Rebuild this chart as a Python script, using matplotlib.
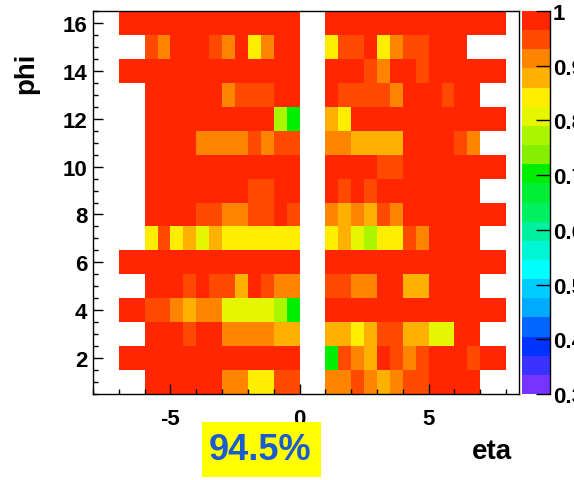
import numpy as np
import matplotlib
matplotlib.use("Agg")
import matplotlib.pyplot as plt
from matplotlib.colors import ListedColormap, BoundaryNorm
from matplotlib.patches import Rectangle
from matplotlib.ticker import MultipleLocator, FixedLocator

plt.rcParams["font.family"] = ["Liberation Sans", "DejaVu Sans"]
plt.rcParams["font.weight"] = "bold"
plt.rcParams["axes.unicode_minus"] = False

nan = np.nan

# lower edges of the 0.5-wide eta bins; towers live in -7..0 and 1..8
eta_neg = [-7.0, -6.5, -6.0, -5.5, -5.0, -4.5, -4.0, -3.5, -3.0, -2.5, -2.0, -1.5, -1.0, -0.5]
eta_pos = [1.0, 1.5, 2.0, 2.5, 3.0, 3.5, 4.0, 4.5, 5.0, 5.5, 6.0, 6.5, 7.0, 7.5]
phi_bins = list(range(1, 17))

# efficiency per phi row (phi = 1 .. 16), negative eta side
eff_neg = [
    [nan, nan, .99, .99, .99, .99, .99, .99, .925, .925, .855, .855, .96, .96],
    [.99, .99, .99, .99, .99, .99, .99, .99, .99, .99, .99, .99, .99, .99],
    [nan, nan, .99, .99, .99, .96, .99, .99, .925, .925, .925, .925, .89, .89],
    [.99, .99, .96, .96, .925, .89, .925, .925, .82, .82, .82, .82, .785, .71],
    [nan, nan, .99, .99, .99, .96, .99, .96, .96, .89, .99, .96, .925, .925],
    [.99, .99, .99, .99, .99, .99, .99, .99, .99, .99, .99, .99, .99, .99],
    [nan, nan, .855, .96, .855, .89, .82, .89, .855, .855, .855, .855, .855, .855],
    [nan, nan, .99, .99, .99, .99, .96, .96, .925, .925, .96, .96, .99, .96],
    [nan, nan, .99, .99, .99, .99, .99, .99, .99, .99, .96, .96, .99, .99],
    [nan, nan, .99, .99, .99, .99, .99, .99, .99, .99, .99, .99, .99, .99],
    [nan, nan, .99, .99, .99, .99, .925, .925, .925, .925, .96, .925, .96, .96],
    [nan, nan, .99, .99, .99, .99, .99, .99, .99, .99, .99, .99, .785, .71],
    [nan, nan, .99, .99, .99, .99, .99, .99, .925, .96, .96, .96, .99, .99],
    [.99, .99, .99, .99, .99, .99, .99, .99, .99, .99, .99, .99, .99, .99],
    [nan, nan, .96, .925, .99, .99, .99, .96, .925, .99, .855, .925, .99, .99],
    [.99, .99, .99, .99, .99, .99, .99, .99, .99, .99, .99, .99, .99, .99],
]

# positive eta side
eff_pos = [
    [.925, .925, .96, .925, .89, .925, .96, .96, .99, .99, .99, .99, nan, nan],
    [.71, .96, .925, .89, .99, .96, .925, .96, .99, .99, .99, .96, .99, .99],
    [.89, .89, .855, .89, .96, .96, .89, .89, .82, .82, .99, .99, nan, nan],
    [.99, .99, .99, .99, .99, .99, .99, .99, .99, .99, .99, .99, .99, .99],
    [.96, .96, .925, .925, .99, .99, .89, .89, .99, .99, .99, .99, nan, nan],
    [.99, .99, .99, .99, .99, .99, .99, .99, .99, .99, .99, .99, .99, .99],
    [.855, .89, .82, .785, .855, .855, .96, .925, .99, .99, .99, .99, nan, nan],
    [.925, .89, .925, .89, .96, .925, .99, .99, .99, .99, .99, .99, .99, .99],
    [.99, .96, .99, .96, .99, .99, .99, .99, .99, .99, .99, .99, nan, nan],
    [.99, .99, .99, .99, .96, .96, .99, .99, .99, .99, .99, .99, .99, .99],
    [.925, .925, .89, .89, .89, .89, .99, .99, .99, .99, .96, .925, nan, nan],
    [.89, .855, .99, .99, .99, .99, .99, .99, .99, .99, .99, .99, .99, .99],
    [.99, .96, .96, .96, .96, .925, .99, .99, .99, .96, .99, .99, nan, nan],
    [.99, .99, .99, .96, .925, .99, .99, .96, .99, .99, .99, .99, .99, .99],
    [.855, .96, .96, .99, .855, .925, .96, .96, .99, .99, .99, nan, nan, nan],
    [.99, .99, .99, .99, .99, .99, .99, .99, .99, .99, .99, .99, .99, .99],
]

total_eff = "94.5%"

# 20-level palette, low to high
palette = ["#7733ff", "#3a33ff", "#0033ff", "#0066ff", "#00aaff",
           "#00ccff", "#00ffff", "#00f5d5", "#00f0a0", "#00f060",
           "#00ee33", "#00ee00", "#84f000", "#aaf500", "#e6f500",
           "#ffee00", "#ffb000", "#ff8400", "#ff4a00", "#ff2600"]
levels = np.linspace(0.3, 1.0, 21)
cmap = ListedColormap(palette)
norm = BoundaryNorm(levels, cmap.N)

# full grid, with the empty 0 < eta < 1 strip in between
eta_low = eta_neg + [0.0, 0.5] + eta_pos
eta_edges = np.append(eta_low, eta_low[-1] + 0.5)
phi_edges = np.append(np.array(phi_bins) - 0.5, phi_bins[-1] + 0.5)
z = np.hstack([np.array(eff_neg), np.full((16, 2), nan), np.array(eff_pos)])
z = np.ma.masked_invalid(z)

W, H = 574, 481
fig = plt.figure(figsize=(W / 100, H / 100), dpi=100)
ax = fig.add_axes([93 / W, 1 - 395 / H, 426 / W, 383 / H])
mesh = ax.pcolormesh(eta_edges, phi_edges, z, cmap=cmap, norm=norm)

ax.set_xlim(-8, 8.5)
ax.set_ylim(0.5, 16.5)
ax.xaxis.set_major_locator(FixedLocator([-5, 0, 5]))
ax.xaxis.set_minor_locator(MultipleLocator(1))
ax.yaxis.set_major_locator(MultipleLocator(2))
ax.yaxis.set_minor_locator(MultipleLocator(0.5))
ax.tick_params(which="both", direction="in", top=False, right=False,
               labelsize=16, width=1)
ax.tick_params(which="major", length=7)
ax.tick_params(which="minor", length=3.5)
ax.tick_params(axis="x", pad=10)
ax.tick_params(axis="y", pad=4)
for s in ax.spines.values():
    s.set_linewidth(1)

fig.text(492 / W, 1 - 452 / H, "eta", fontsize=20, fontweight="bold",
         ha="center", va="center")
fig.text(26 / W, 1 - 73 / H, "phi", fontsize=20, fontweight="bold",
         rotation=90, ha="center", va="center")

# colour scale
cax = fig.add_axes([522 / W, 1 - 395 / H, 28 / W, 383 / H])
cb = fig.colorbar(mesh, cax=cax, boundaries=levels)
cb.outline.set_visible(False)
cb.set_ticks([0.3, 0.4, 0.5, 0.6, 0.7, 0.8, 0.9, 1.0])
cb.set_ticklabels(["0.3", "0.4", "0.5", "0.6", "0.7", "0.8", "0.9", "1"])
cax.yaxis.set_ticks_position("right")
cax.tick_params(direction="in", length=10, width=1, labelsize=16, pad=2)
cax.minorticks_off()
cax.plot([1, 1], [0, 1], color="black", lw=1, transform=cax.transAxes,
         clip_on=False)

# overall efficiency tag
fig.patches.append(Rectangle((202 / W, 1 - 478 / H), 119 / W, 55 / H,
                             transform=fig.transFigure, facecolor="#ffff00",
                             edgecolor="none"))
fig.text(260 / W, 1 - 451 / H, total_eff, fontsize=26, fontweight="bold",
         color="#1a5ccf", ha="center", va="center")

fig.savefig("out.png", dpi=100)
